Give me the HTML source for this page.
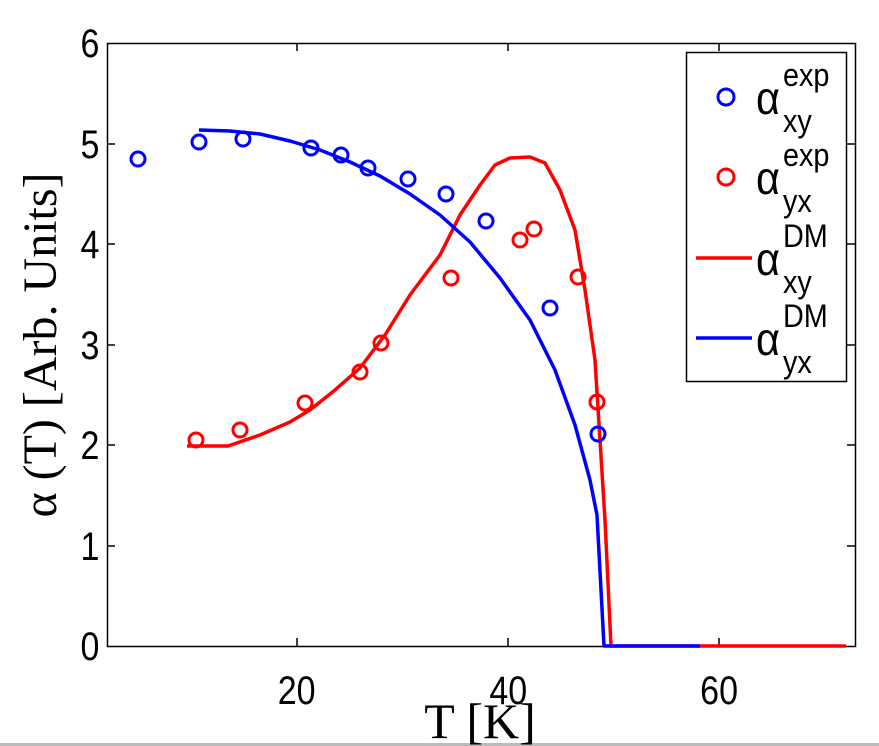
<!DOCTYPE html><html><head><style>body{margin:0;background:#fff}svg{display:block}</style></head><body>
<svg width="879" height="746" xmlns="http://www.w3.org/2000/svg" font-family="Liberation Sans, sans-serif">
<rect width="879" height="746" fill="#fff"/>
<rect x="0" y="743" width="879" height="3" fill="#bbb"/>
<g stroke="#000" stroke-width="1.5" fill="none">
<rect x="107.5" y="43.5" width="748" height="603"/>
<path d="M297 646v-8M508 646v-8M719 646v-8M297 43v8M508 43v8M719 43v8"/>
<path d="M107 546h8M107 445h8M107 345h8M107 244h8M107 144h8M855 546h-8M855 445h-8M855 345h-8M855 244h-8M855 144h-8"/>
</g>
<g font-size="40" text-anchor="end" transform="scale(0.85,1)">
<text x="117" y="660">0</text><text x="117" y="560">1</text><text x="117" y="459">2</text><text x="117" y="359">3</text><text x="117" y="258">4</text><text x="117" y="158">5</text><text x="117" y="57">6</text>
</g>
<g font-size="40" text-anchor="middle" transform="scale(0.85,1)">
<text x="349" y="704">20</text><text x="598" y="704">40</text><text x="846" y="704">60</text>
</g>
<text x="480" y="738" font-family="Liberation Serif, serif" font-size="50" text-anchor="middle">T [K]</text>
<text transform="translate(56,345) rotate(-90)" font-family="Liberation Serif, serif" font-size="48" text-anchor="middle">α (T) [Arb. Units]</text>
<g fill="none" stroke-width="3.5" stroke-linejoin="round">
<polyline stroke="#f00" points="187,446 228,446 260,435 290,422 310,410 335,390 360,368 385,335 410,295 440,255 460,215 480,185 495,165 510,158 530,157 545,163 560,190 575,230 585,290 595,360 600,440 605,520 611,646 700,646"/>
<polyline stroke="#00f" points="199,130 230,131 260,134 290,141 320,150 350,162 380,176 410,194 440,215 470,242 500,278 530,320 555,370 575,425 590,480 597,515 604,646 700,646"/>
<line x1="700" y1="646" x2="846" y2="646" stroke="#f00"/>
</g>
<g fill="none" stroke="#00f" stroke-width="3">
<circle cx="138" cy="159" r="7"/><circle cx="199" cy="142" r="7"/><circle cx="243" cy="139" r="7"/><circle cx="311" cy="148" r="7"/><circle cx="341" cy="155" r="7"/><circle cx="368" cy="168" r="7"/><circle cx="408" cy="179" r="7"/><circle cx="446" cy="194" r="7"/><circle cx="486" cy="221" r="7"/><circle cx="550" cy="308" r="7"/><circle cx="598" cy="434" r="7"/>
</g>
<g fill="none" stroke="#f00" stroke-width="3">
<circle cx="196" cy="440" r="7"/><circle cx="240" cy="430" r="7"/><circle cx="305" cy="403" r="7"/><circle cx="360" cy="372" r="7"/><circle cx="381" cy="343" r="7"/><circle cx="451" cy="278" r="7"/><circle cx="520" cy="240" r="7"/><circle cx="534" cy="229" r="7"/><circle cx="578" cy="277" r="7"/><circle cx="597" cy="402" r="7"/>
</g>
<rect x="686.5" y="52.5" width="160" height="329" fill="#fff" stroke="#000" stroke-width="1.5"/>
<circle cx="726" cy="97" r="8" fill="none" stroke="#00f" stroke-width="3"/>
<circle cx="726" cy="177" r="8" fill="none" stroke="#f00" stroke-width="3"/>
<line x1="696" y1="258" x2="752" y2="258" stroke="#f00" stroke-width="3.5"/>
<line x1="696" y1="338" x2="752" y2="338" stroke="#00f" stroke-width="3.5"/>
<g font-size="32" transform="scale(0.9,1)">
<text x="840" y="114" font-size="46">α</text><text x="870" y="86">exp</text><text x="870" y="132">xy</text>
<text x="840" y="194" font-size="46">α</text><text x="870" y="166">exp</text><text x="870" y="212">yx</text>
<text x="840" y="275" font-size="46">α</text><text x="870" y="247">DM</text><text x="870" y="293">xy</text>
<text x="840" y="355" font-size="46">α</text><text x="870" y="327">DM</text><text x="870" y="373">yx</text>
</g>
</svg></body></html>
